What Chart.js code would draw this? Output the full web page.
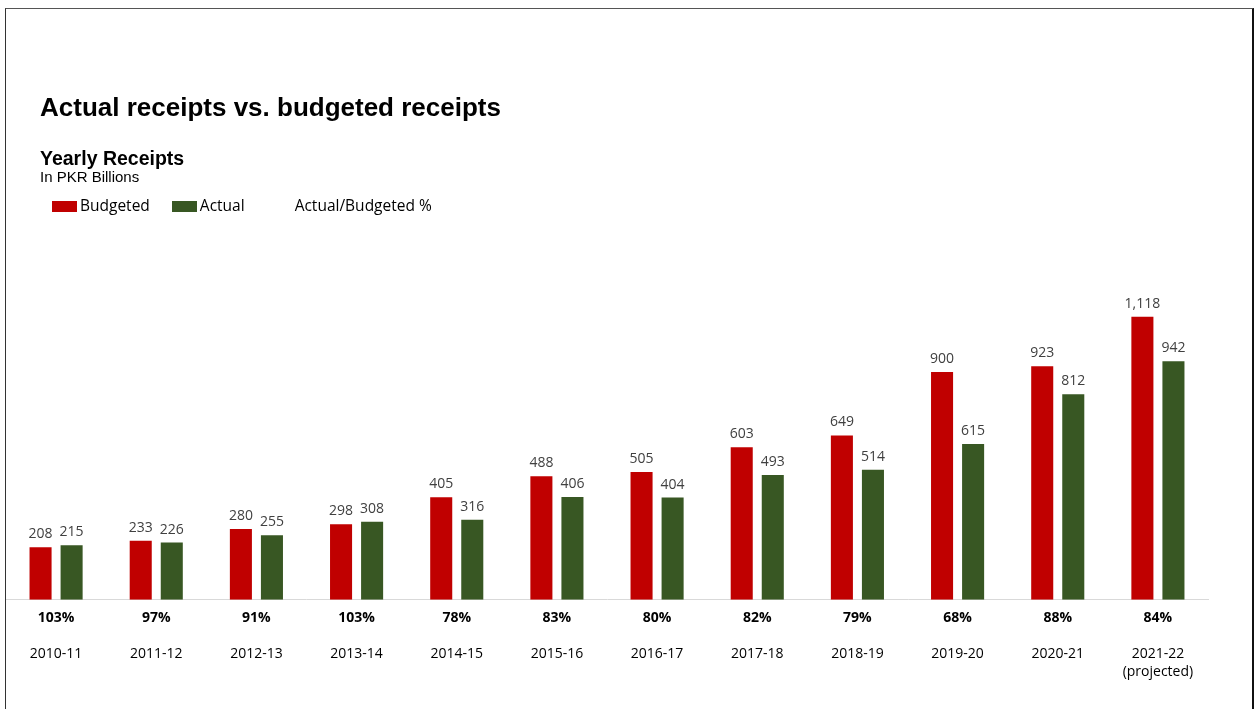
<!DOCTYPE html>
<html>
<head>
<meta charset="utf-8">
<script src="https://cdn.jsdelivr.net/npm/chart.js@4.4.1/dist/chart.umd.min.js"></script>
<style>
  html, body { margin:0; padding:0; background:#fff; }
  #page { position:relative; width:1256px; height:709px; overflow:hidden; }
  #frame { position:absolute; left:5px; top:8px; width:1246px; height:760px;
           border-left:1px solid #333; border-top:1px solid #555; border-right:2px solid #111; }
  canvas { position:absolute; left:0; top:0; }
  .txt { position:absolute; left:40px; white-space:nowrap; color:#000; line-height:1; z-index:2;
         font-family:"Liberation Sans", Arial, sans-serif; }
  #titulo { top:94px; font-size:26px; font-weight:bold; }
  #subtitulo { top:149px; font-size:19.5px; font-weight:bold; }
  #unidad { top:169px; font-size:15px; }
  #leyenda { position:absolute; left:52px; top:198px; z-index:2; white-space:nowrap;
             font-family:"Open Sans", sans-serif; font-size:15.5px; line-height:1; color:#000; }
  #leyenda span.item { display:inline-block; margin-right:22px; }
  #leyenda i { display:inline-block; width:25px; height:11px; margin-right:3px; vertical-align:-1px; }
</style>
</head>
<body>
<div id="page">
  <div id="frame"></div>
  <div class="txt" id="titulo">Actual receipts vs. budgeted receipts</div>
  <div class="txt" id="subtitulo">Yearly Receipts</div>
  <div class="txt" id="unidad">In PKR Billions</div>
  <div id="leyenda"></div>
  <canvas id="grafico" width="1256" height="709"></canvas>
</div>
<script>
// datos de recaudacion anual (miles de millones PKR)
var anios = ["2010-11","2011-12","2012-13","2013-14","2014-15","2015-16",
             "2016-17","2017-18","2018-19","2019-20","2020-21",["2021-22","(projected)"]];
var presupuestado = [208, 233, 280, 298, 405, 488, 505, 603, 649, 900, 923, 1118];
var real = [215, 226, 255, 308, 316, 406, 404, 493, 514, 615, 812, 942];
var porcentaje = ["103%","97%","91%","103%","78%","83%","80%","82%","79%","68%","88%","84%"];

var rojo = '#C00000';
var verde = '#385723';

// leyenda
var items = [
  {label:'Budgeted', color:rojo},
  {label:'Actual', color:verde},
  {label:'Actual/Budgeted %', color:'transparent'}
];
items.forEach(function(it){
  var s = document.createElement('span');
  s.className = 'item';
  s.innerHTML = '<i style="background:' + it.color + '"></i>' + it.label;
  document.getElementById('leyenda').appendChild(s);
});

// etiquetas de valor encima de cada barra
var etiquetas = {
  id: 'etiquetas',
  afterDatasetsDraw: function(chart){
    var ctx = chart.ctx;
    ctx.save();
    ctx.font = '14px "Open Sans", sans-serif';
    ctx.fillStyle = '#404040';
    ctx.textAlign = 'center';
    ctx.textBaseline = 'alphabetic';
    chart.data.datasets.forEach(function(ds, i){
      chart.getDatasetMeta(i).data.forEach(function(bar, j){
        ctx.fillText(ds.data[j].toLocaleString('en-US'), bar.x, bar.y - 9);
      });
    });
    ctx.restore();
  }
};

var ctx = document.getElementById('grafico').getContext('2d');
var grafico = new Chart(ctx, {
  type: 'bar',
  data: {
    labels: anios,
    datasets: [
      { label:'Budgeted', data:presupuestado, backgroundColor:rojo,
        categoryPercentage:0.62, barPercentage:0.71 },
      { label:'Actual', data:real, backgroundColor:verde,
        categoryPercentage:0.62, barPercentage:0.71 }
    ]
  },
  options: {
    responsive: false,
    animation: false,
    layout: { padding: { top:296, left:6, right:48, bottom:20 } },
    plugins: { legend:{display:false}, tooltip:{enabled:false}, title:{display:false} },
    scales: {
      y: { display:false, min:0, max:1200 },
      x: {
        position:'bottom', weight:1, offset:true,
        grid:{display:false, drawTicks:false}, border:{display:false},
        ticks:{ padding:8, color:'#000', maxRotation:0, autoSkip:false,
                font:{family:'"Open Sans", sans-serif', size:14, lineHeight:1.3} }
      },
      pct: {
        type:'category', labels:porcentaje, position:'bottom', weight:0, offset:true,
        grid:{display:false, drawTicks:false}, border:{display:true, color:'#d9d9d9', width:1},
        ticks:{ padding:10, color:'#000', maxRotation:0, autoSkip:false,
                font:{family:'"Open Sans", sans-serif', size:14, weight:'bold'} }
      }
    }
  },
  plugins: [etiquetas]
});
</script>
</body>
</html>
